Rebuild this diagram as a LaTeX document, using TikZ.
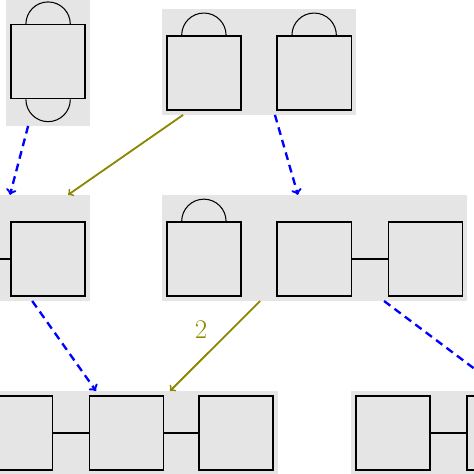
\documentclass[tikz,border=0pt]{standalone}
\usetikzlibrary{fit,backgrounds}
\tikzset{
  carre/.style={draw, line width=1pt, minimum size=2cm, inner sep=0pt},
  demi/.style={line width=0.8pt},
  lien/.style={line width=1pt},
  groupe/.style={fill=black!10, inner sep=0.11cm},
  pointille/.style={->, blue, line width=1.8pt, dash pattern=on 6pt off 4pt},
  pleine/.style={->, olive, line width=1.4pt},
}
\begin{document}
\begin{tikzpicture}
\useasboundingbox (0,0) rectangle (12.81,12.81);
% ligne du haut
\node[carre] (A) at (1.30,11.14) {};
\draw[demi] ([xshift=-0.6cm]A.north) arc (180:0:0.6);
\draw[demi] ([xshift=-0.6cm]A.south) arc (180:360:0.6);
\coordinate (Ahaut) at ([yshift=0.6cm]A.north);
\coordinate (Abas) at ([yshift=-0.6cm]A.south);
\node[carre] (B1) at (5.51,10.84) {};
\node[carre] (B2) at (8.49,10.84) {};
\draw[demi] ([xshift=-0.6cm]B1.north) arc (180:0:0.6);
\draw[demi] ([xshift=-0.6cm]B2.north) arc (180:0:0.6);
\coordinate (Bhaut) at ([yshift=0.6cm]B1.north);

% ligne du milieu
\node[carre] (C0) at (-1.70,5.81) {};
\node[carre] (C) at (1.30,5.81) {};
\draw[lien] (C0) -- (C);
\coordinate (Chaut) at ([yshift=0.6cm]C.north);
\node[carre] (D1) at (5.51,5.81) {};
\node[carre] (D2) at (8.49,5.81) {};
\node[carre] (D3) at (11.49,5.81) {};
\draw[demi] ([xshift=-0.6cm]D1.north) arc (180:0:0.6);
\draw[lien] (D2) -- (D3);
\coordinate (Dhaut) at ([yshift=0.6cm]D1.north);

% ligne du bas
\node[carre] (E1) at (0.41,1.11) {};
\node[carre] (E2) at (3.41,1.11) {};
\node[carre] (E3) at (6.38,1.11) {};
\draw[lien] (E1) -- (E2);
\draw[lien] (E2) -- (E3);
\node[carre] (F1) at (10.62,1.11) {};
\node[carre] (F2) at (13.62,1.11) {};
\draw[lien] (F1) -- (F2);

% les fonds gris
\begin{scope}[on background layer]
\node[groupe, fit=(A) (Ahaut) (Abas)] (g1) {};
\node[groupe, fit=(B1) (B2) (Bhaut)] (g2) {};
\node[groupe, fit=(C0) (C) (Chaut)] (g3) {};
\node[groupe, fit=(D1) (D3) (Dhaut)] (g4) {};
\node[groupe, fit=(E1) (E3)] (g5) {};
\node[groupe, fit=(F1) (F2)] (g6) {};
\end{scope}

% les fleches
\draw[pointille] ([xshift=-0.54cm]g1.south) -- ([xshift=0.47cm]g3.north);
\draw[pleine] ([xshift=-2.05cm]g2.south) -- ([xshift=2.04cm]g3.north);
\draw[pointille] ([xshift=0.43cm]g2.south) -- ([xshift=-0.45cm]g4.north);
\draw[pleine] ([xshift=-1.47cm]g4.south) -- node[midway, above left=2pt, olive] {\huge $2$} ([xshift=1.2cm]g5.north);
\draw[pointille] ([xshift=1.07cm]g3.south) -- ([xshift=-0.8cm]g5.north);
\draw[pointille] ([xshift=1.88cm]g4.south) -- ([xshift=1.5cm]g6.north);
\end{tikzpicture}
\end{document}
